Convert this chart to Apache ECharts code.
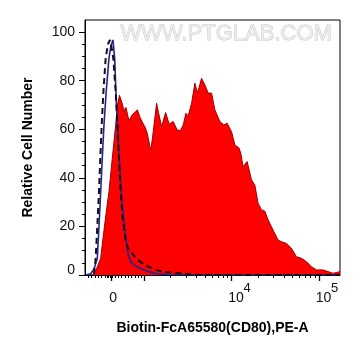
<!DOCTYPE html>
<html><head><meta charset="utf-8">
<script src="https://cdn.jsdelivr.net/npm/echarts@6/dist/echarts.min.js"></script>
<style>html,body{margin:0;padding:0;background:#fff}#c{width:361px;height:356px}</style>
</head><body><div id="c"></div>
<script>
// x values are positions on the biexponential display axis, in decades (4 = 10^4, 5 = 10^5)
const redX = [2.4087,2.4509,2.5046,2.5308,2.5651,2.5993,2.6370,2.6758,2.6963,2.7192,2.7477,2.7705,2.7934,2.8276,2.8653,2.8961,2.9247,2.9532,2.9795,3.0103,3.0365,3.0674,3.0788,3.1016,3.1438,3.1644,3.2009,3.2466,3.2877,3.3333,3.3790,3.4178,3.4498,3.4783,3.5046,3.5434,3.5811,3.6119,3.6575,3.6952,3.7329,3.7717,3.8094,3.8664,3.9121,3.9498,4.0000,4.0377,4.0868,4.1062,4.1324,4.1781,4.2283,4.2660,4.3037,4.3425,4.3801,4.4178,4.4749,4.5320,4.5708,4.6279,4.6849,4.7420,4.7991,4.8562,4.9132,4.9703,5.0457,5.1027,5.1598,5.1986,5.2397];
const redY = [0,2,6.9,15,25,34.3,48,61.8,70,74,71,67.5,69,63.5,66,67,68,65,63,61,58.4,52.9,51.6,58,70.7,67,61.1,66.9,62.1,63.2,59.7,59.5,62,66.6,65.5,70.7,79,74.9,81,78.3,74.9,74.9,68,63.2,61.8,62.5,59,53.6,52.2,50,44.6,46.7,39.1,37.1,29.5,26.8,26.3,22.7,18.5,14.4,13.7,13,11,7.5,6.9,5.5,3.4,2.1,2.1,1.4,0.7,1,1.4];
const blueX = [2.3367,2.3904,2.4281,2.4658,2.4852,2.5046,2.5228,2.5422,2.5685,2.5993,2.6221,2.6450,2.6644,2.6792,2.6941,2.7169,2.7397,2.7648,2.7968,2.8219,2.8470,2.8961,2.9612,3.0445,3.1473,3.2957,3.6381,5.2397];
const blueY = [0,0.5,2.5,6.9,20,34.3,48,61.8,76,89.3,94.5,96.8,89.3,75,61.8,48,34.3,24,13.7,8,5.5,3.8,2.7,1.5,0.5,0.1,0,0];
const dashX = [2.4281,2.4475,2.4658,2.4852,2.5000,2.5160,2.5365,2.5616,2.5879,2.6107,2.6279,2.6484,2.6758,2.6963,2.7135,2.7329,2.7534,2.7900,2.8162,2.8390,2.8733,2.9189,2.9760,3.0445,3.1473,3.2386,3.3756,3.5240,3.6381,5.2397];
const dashY = [0.5,6.9,20,34.3,48,61.8,76,89.3,95,96.8,94,89.3,75.5,61.8,48,34.3,24,14.5,11,10,8.5,6.5,5,3.5,2,1.2,0.8,0.3,0,0];

const xMin = 2.3253, xMax = 5.2397;
const xMajorTicks = [2.63, 3, 4, 5];
const xMinorTicks = [2.363,2.402,2.440,2.477,2.516,2.554,2.580,2.596,2.611,2.626,2.642,2.668,2.706,2.744,2.782,2.820,2.858,2.896,2.934,2.973,
  3.301,3.477,3.602,3.699,3.778,3.845,3.903,3.954,4.301,4.477,4.602,4.699,4.778,4.845,4.903,4.954];
const xLabelValues = [2.63, 4, 5];
const xLabelBase = ['0', '10', '10'];
const xExpValues = [4, 5];
const xExpLabels = ['4', '5'];
const yLabelValues = [0, 20, 40, 60, 80, 100];
const yMinorTicks = [5,10,15,25,30,35,45,50,55,65,70,75,85,90,95];

const FONT = 'Arial, "Liberation Sans", sans-serif';
const pairs = (xs, ys) => xs.map((x, i) => [x, ys[i]]);
const nearestIdx = (arr, v) => { let b = 0; arr.forEach((a, i) => { if (Math.abs(a - v) < Math.abs(arr[b] - v)) b = i; }); return b; };

const chart = echarts.init(document.getElementById('c'), null, {renderer: 'canvas'});
chart.setOption({
  animation: false,
  backgroundColor: '#fff',
  grid: {left: 85, top: 20, right: 21, bottom: 81, show: true, borderColor: '#000', borderWidth: 1, outerBoundsMode: 'none', containLabel: false},
  graphic: [{
    type: 'text', left: 120, top: 23, z: 0,
    style: {text: 'WWW.PTGLAB.COM', font: '22px ' + FONT, fill: '#ececec', stroke: '#c2c2c2', lineWidth: 0.8}
  }],
  xAxis: [
    {type: 'value', min: xMin, max: xMax, position: 'bottom',
     axisLine: {show: true, onZero: false, lineStyle: {color: '#000', width: 1}},
     axisTick: {show: true, customValues: xMajorTicks, length: 6, lineStyle: {color: '#000', width: 1.3}},
     axisLabel: {customValues: xLabelValues, margin: 16, color: '#111', fontFamily: FONT, fontSize: 14,
       formatter: v => { const i = nearestIdx(xLabelValues, v); return i === 0 ? '{z|0}' : '{b|' + xLabelBase[i] + '}'; },
       rich: {z: {fontSize: 14, fontFamily: FONT, color: '#111', padding: [0, 0, 0, 3]},
              b: {fontSize: 14, fontFamily: FONT, color: '#111', padding: [0, 0, 0, 9]}}},
     splitLine: {show: false},
     name: 'Biotin-FcA65580(CD80),PE-A', nameLocation: 'middle', nameGap: 46,
     nameTextStyle: {fontFamily: FONT, fontSize: 14, fontWeight: 'bold', color: '#000'}},
    {type: 'value', min: xMin, max: xMax, position: 'bottom',
     axisLine: {show: false}, splitLine: {show: false}, axisLabel: {show: false},
     axisTick: {show: true, customValues: xMinorTicks, length: 3, lineStyle: {color: '#000', width: 1}}},
    {type: 'value', min: xMin, max: xMax, position: 'bottom',
     axisLine: {show: false}, splitLine: {show: false}, axisTick: {show: false},
     axisLabel: {customValues: xExpValues, margin: 7, align: 'left', padding: [0, 0, 0, 12], color: '#111', fontFamily: FONT, fontSize: 13,
       formatter: v => xExpLabels[nearestIdx(xExpValues, v)]}}
  ],
  yAxis: [
    {type: 'value', min: 0, max: 105, position: 'left',
     axisLine: {show: true, onZero: false, lineStyle: {color: '#000', width: 1}},
     axisTick: {show: true, customValues: yLabelValues, length: 6, lineStyle: {color: '#000', width: 1}},
     axisLabel: {customValues: yLabelValues, margin: 10, color: '#111', fontFamily: FONT, fontSize: 14,
       formatter: v => v === 0 ? '{z|0}' : String(v),
       rich: {z: {fontSize: 14, fontFamily: FONT, color: '#111', padding: [0, 0, 10, 0]}}},
     splitLine: {show: false},
     name: 'Relative Cell Number', nameLocation: 'middle', nameGap: 50,
     nameTextStyle: {fontFamily: FONT, fontSize: 14, fontWeight: 'bold', color: '#000'}},
    {type: 'value', min: 0, max: 105, position: 'left',
     axisLine: {show: false}, splitLine: {show: false}, axisLabel: {show: false},
     axisTick: {show: true, customValues: yMinorTicks, length: 3, lineStyle: {color: '#000', width: 1}}}
  ],
  series: [
    {type: 'line', name: 'sample', data: pairs(redX, redY), symbol: 'none', z: 2,
     lineStyle: {color: '#9a0000', width: 1}, areaStyle: {color: '#ff0000', opacity: 1}},
    {type: 'line', name: 'isotype', data: pairs(blueX, blueY), symbol: 'none', z: 3,
     lineStyle: {color: '#25238f', width: 1.6}},
    {type: 'line', name: 'blank', data: pairs(dashX, dashY), symbol: 'none', z: 4,
     lineStyle: {color: '#111', width: 2, type: [6, 4]}}
  ]
});
</script></body></html>
